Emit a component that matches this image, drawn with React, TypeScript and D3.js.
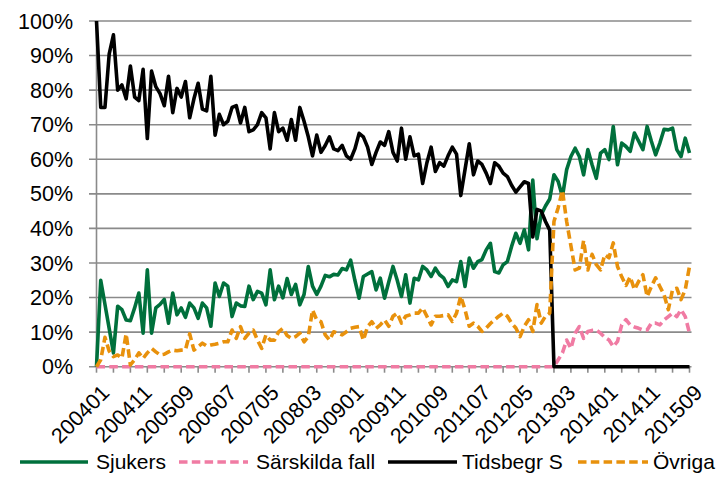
import React from 'react';
import * as d3 from 'd3';

const tickLabels = ['200401','200411','200509','200607','200705','200803','200901','200911','201009','201107','201205','201303','201401','201411','201509'];

const sjukers = [
  0,25,18,11,4,17.5,16.5,13.5,13.3,17,
  21.3,9.7,28,9.7,17,18,19.5,12.6,21.3,15,
  17,14.3,18.4,17,14,18.4,17,11.7,24.2,20.3,
  24.2,23.3,14.5,18.4,17.6,17.4,23.3,19.4,21.8,21.3,
  17.9,28,19.4,23.3,19.9,25.5,20.9,23.8,17.9,20.9,
  29,23.3,20.9,23.3,26.4,26,26.7,26.5,28.4,28,
  30.8,25,19.8,26.1,26.8,27.5,22.2,25.6,19.8,24.5,
  29,25,20.3,26.6,18.4,25.6,25.1,29,28,26.1,
  28.5,26.6,25.6,23.2,25.1,24.6,30.4,23.2,31.4,28.5,
  30.4,31,33.8,35.7,27.5,27.1,29.5,30.4,34.8,38.6,
  35.7,39.6,33.8,54,37,44,46.5,48.5,55.5,53.6,
  49.2,57,60.8,63.2,60.8,55.5,62.8,58.4,54.5,61.8,
  62.8,59.9,69.5,58.4,64.7,63.7,62.3,67.6,65.2,62.8,
  69.5,65.2,61.3,64.7,68.7,68.5,69,62.8,60.8,66.1,
  61.8
];

const sarskilda = [
  0,0,0,0,0,0,0,0,0,0, 0,0,0,0,0,0,0,0,0,0,
  0,0,0,0,0,0,0,0,0,0, 0,0,0,0,0,0,0,0,0,0,
  0,0,0,0,0,0,0,0,0,0, 0,0,0,0,0,0,0,0,0,0,
  0,0,0,0,0,0,0,0,0,0, 0,0,0,0,0,0,0,0,0,0,
  0,0,0,0,0,0,0,0,0,0, 0,0,0,0,0,0,0,0,0,0,
  0,0,0,0,0,0,0,0,0,2,
  4,7.7,5.3,9.7,11.6,8.2,10.2,10.5,10.6,9.7,
  8.5,7.7,5.8,7.3,12.1,13.6,12.1,11.5,11.1,10.6,
  10.6,12.6,12.6,12.1,13.5,14.5,15.5,14.5,16.5,14.5,
  9.7
];

const tidsbegr = [
  100,75,75,90.5,96,80,81.5,77.5,87,78,
  77,86,66,85.5,81,79,75.5,84,73.5,80.5,
  78,82.5,72,77.5,82,74.5,74,84,67,73,
  70,71,75,75.5,70.5,75,68,68.5,70,73.5,
  72,63,73.5,68,69,65.5,71.5,65.5,75,71,
  66.5,61,67,62,64,66.5,63,62.5,64,61,
  60,63,67.5,66.5,63.5,58.5,62,65,64,68,
  62,59.5,69,60,66.5,61,61.5,53,59,63.5,
  56.5,59,58,61,63.5,61.5,49.5,57,64.5,55.5,
  59.5,58.5,56,53,59,58,56,55,52.5,50.5,
  52,53.5,53,37.5,45.5,45,42,39.5,0,0,
  0,0,0,0,0,0,0,0,0,0, 0,0,0,0,0,0,0,0,0,0,
  0,0,0,0,0,0,0,0,0,0, 0
];

const ovriga = [
  0,2,8.5,4.5,2.9,3.4,2.5,9.5,0.5,2,
  4,2.4,4,5.3,4.3,3.4,3.6,4.3,4.8,4.6,
  4.8,4.9,9.5,4.8,5.8,6.8,6,6.3,6.5,6.8,
  7.2,7.2,10.6,8.2,11.6,8.2,9.7,10.6,7.7,5.3,
  9.2,7.7,7.7,10.1,11.1,9,8.2,8.7,9.7,7.2,
  8.7,16.4,13.5,13,9.2,7.7,10.1,9.7,9.2,10.1,
  11.1,11.4,11.6,7.7,11.6,13,11.1,12.1,13.5,11.7,
  14.6,15.5,12.6,14.6,15,15.5,15.5,17,14.6,12.1,
  14.6,14.6,14.8,15,13.1,15.5,20.4,16.5,11.7,12.6,
  11.7,10.2,11.2,12.5,13.6,14.6,15.5,14.6,12.6,11.2,
  8.7,11.7,13.6,10.2,18,12.6,14.6,15.5,42,46,
  51,42,35,28,28.5,36.5,28,32.5,29.5,28,
  32.4,31.5,35.8,29,26,23.5,26,22.3,24.7,26.6,
  20.3,23.2,25.7,23.2,20.8,16.5,22.3,22.7,19.4,22.3,
  29
];

const seriesNames = ['Sjukers', 'Särskilda fall', 'Tidsbegr S', 'Övriga'];
const seriesData = [sjukers, sarskilda, tidsbegr, ovriga];
const seriesColors = ['#00703C', '#F07BA3', '#000000', '#E8910C'];
const seriesDash = [null, '8.5,4.3', null, '8.5,4.3'];
const yTicks = [0, 10, 20, 30, 40, 50, 60, 70, 80, 90, 100];

const W = 719, H = 499;
const FONT = '"Liberation Sans", Arial, sans-serif';

export default function App() {
  const n = sjukers.length;
  const x = d3.scaleLinear().domain([0, n - 1]).range([96.5, 689.5]);
  const y = d3.scaleLinear().domain([0, 100]).range([366.7, 21]);
  const line = d3.line<number>().x((_, i) => x(i)).y(d => y(d)).curve(d3.curveLinear);
  const tickIdx = d3.range(0, n, 4);
  const labelIdx = tickLabels.map((_, k) => k * 10);
  const legendItems = [
    { x1: 20, x2: 88, tx: 96 },
    { x1: 179, x2: 248, tx: 256 },
    { x1: 388, x2: 457, tx: 462 },
    { x1: 578, x2: 648, tx: 653 },
  ];
  const gridColor = '#8A8A8A';
  return (
    <svg width={W} height={H} style={{ position: 'absolute', left: 0, top: 0, background: '#fff' }} fontFamily={FONT}>
      {yTicks.map(t => (
        <g key={t}>
          <line x1={89} x2={691.5} y1={y(t)} y2={y(t)} stroke={gridColor} strokeWidth={1.6} />
          <text x={73} y={y(t)} dy="0.35em" textAnchor="end" fontSize={21.5} fill="#000">{t}%</text>
        </g>
      ))}
      <line x1={96.5} x2={96.5} y1={y(100)} y2={y(0)} stroke={gridColor} strokeWidth={1.6} />
      {tickIdx.map(i => (
        <line key={i} x1={x(i)} x2={x(i)} y1={y(0)} y2={y(0) + 6} stroke={gridColor} strokeWidth={1.6} />
      ))}
      {labelIdx.map((i, k) => (
        <text key={k} transform={`translate(${x(i) + 9},${y(0) + 22}) rotate(-45)`} textAnchor="end" dy="0.35em" fontSize={21.5} fill="#000">{tickLabels[k]}</text>
      ))}
      {seriesData.map((d, s) => (
        <path key={s} d={line(d) || ''} fill="none" stroke={seriesColors[s]} strokeWidth={3.6}
          strokeDasharray={seriesDash[s] || undefined} strokeLinejoin="round" />
      ))}
      {legendItems.map((it, s) => (
        <g key={s}>
          <line x1={it.x1} x2={it.x2} y1={462} y2={462} stroke={seriesColors[s]} strokeWidth={3.6} strokeDasharray={seriesDash[s] || undefined} />
          <text x={it.tx} y={462} dy="0.35em" fontSize={21} fill="#000">{seriesNames[s]}</text>
        </g>
      ))}
    </svg>
  );
}
